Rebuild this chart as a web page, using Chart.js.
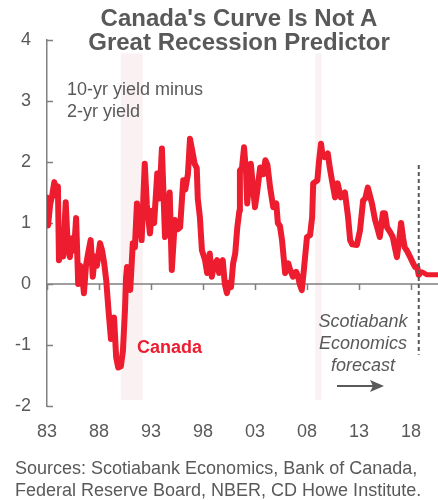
<!DOCTYPE html>
<html>
<head>
<meta charset="utf-8">
<script src="https://cdn.jsdelivr.net/npm/chart.js@4/dist/chart.umd.min.js"></script>
<style>
  body { margin: 0; background: #fff; }
  #wrap { position: relative; width: 438px; height: 500px; font-family: "Liberation Sans", Arial, sans-serif; color: #595959; }
  #title { position: absolute; left: 0; top: 6px; width: 478px; text-align: center; font-weight: bold; font-size: 24px; line-height: 24px; }
  #source { position: absolute; left: 15px; top: 457px; font-size: 18px; line-height: 22px; white-space: nowrap; }
  canvas { position: absolute; left: 0; top: 0; }
</style>
</head>
<body>
<div id="wrap">
  <canvas id="curveChart" width="438" height="500"></canvas>
  <div id="title">Canada's Curve Is Not A<br>Great Recession Predictor</div>
  <div id="source">Sources: Scotiabank Economics, Bank of Canada,<br>Federal Reserve Board, NBER, CD Howe Institute.</div>
</div>
<script>
"use strict";

// 10-yr minus 2-yr yield, Canada (decimal years)
const years = [
  1983.0, 1983.1, 1983.3, 1983.5, 1983.7, 1983.9, 1984.05, 1984.15, 1984.35, 1984.55,
  1984.8, 1985.0, 1985.2, 1985.4, 1985.6, 1985.8, 1986.0, 1986.2, 1986.35, 1986.55,
  1986.75, 1986.95, 1987.2, 1987.4, 1987.6, 1987.8, 1988.1, 1988.3, 1988.5, 1988.7,
  1988.9, 1989.15, 1989.35, 1989.45, 1989.65, 1989.85, 1990.1, 1990.3, 1990.5, 1990.6,
  1990.7, 1990.9, 1991.0, 1991.15, 1991.25, 1991.45, 1991.65, 1991.85, 1992.05, 1992.1,
  1992.4, 1992.6, 1992.9, 1993.1, 1993.3, 1993.6, 1993.8, 1994.05, 1994.35, 1994.55,
  1994.8, 1995.0, 1995.3, 1995.6, 1995.8, 1996.1, 1996.3, 1996.55, 1996.75, 1996.95,
  1997.2, 1997.4, 1997.5, 1997.7, 1997.9, 1998.2, 1998.4, 1998.65, 1998.85, 1999.05,
  1999.35, 1999.55, 1999.75, 1999.9, 2000.1, 2000.3, 2000.5, 2000.7, 2000.9, 2001.1,
  2001.3, 2001.5, 2001.55, 2001.75, 2001.95, 2002.15, 2002.25, 2002.45, 2002.6, 2002.8,
  2003.0, 2003.2, 2003.5, 2003.8, 2004.0, 2004.2, 2004.45, 2004.75, 2005.05, 2005.2,
  2005.4, 2005.6, 2005.9, 2006.2, 2006.35, 2006.65, 2006.95, 2007.15, 2007.3, 2007.5,
  2007.7, 2008.0, 2008.3, 2008.5, 2008.6, 2009.0, 2009.15, 2009.35, 2009.5, 2009.7,
  2010.0, 2010.2, 2010.4, 2010.7, 2010.95, 2011.25, 2011.65, 2011.95, 2012.15, 2012.35,
  2012.8, 2013.1, 2013.4, 2013.6, 2013.85, 2014.25, 2014.55, 2014.75, 2015.0, 2015.3,
  2015.5, 2015.7, 2016.0, 2016.25, 2016.45, 2016.65, 2016.85, 2017.05, 2017.25, 2017.4,
  2017.6, 2017.9, 2018.2, 2018.4, 2018.6, 2018.75
];
const spread = [
  1.42, 0.96, 1.30, 1.45, 1.67, 1.45, 1.60, 0.39, 0.70, 0.45,
  1.34, 0.60, 0.44, 0.75, 0.55, 1.08, 0.00, 0.30, 0.20, -0.15,
  0.30, 0.50, 0.72, 0.12, 0.45, 0.30, 0.67, 0.55, 0.34, 0.05,
  -0.40, -0.90, -0.60, -0.55, -1.20, -1.37, -1.35, -1.10, -0.42, 0.10,
  0.28, 0.10, -0.10, 0.35, 0.67, 0.60, 1.32, 0.80, 1.00, 0.72,
  1.97, 1.30, 0.83, 1.20, 1.00, 1.81, 1.40, 2.22, 0.77, 1.10,
  1.50, 0.23, 1.05, 0.90, 0.93, 1.70, 1.55, 1.80, 2.38, 2.20,
  1.97, 1.90, 1.40, 1.10, 0.55, 0.39, 0.18, 0.50, 0.12, 0.30,
  0.39, 0.18, 0.35, 0.39, 0.00, -0.15, 0.02, -0.05, 0.34, 0.50,
  0.93, 1.20, 1.86, 1.90, 2.24, 1.80, 1.32, 1.70, 1.97, 1.60,
  1.26, 1.50, 1.91, 1.80, 2.03, 1.95, 1.59, 1.26, 1.32, 1.00,
  0.95, 0.72, 0.18, 0.34, 0.25, 0.12, 0.20, 0.12, 0.00, -0.10,
  0.23, 0.77, 0.80, 1.10, 1.65, 1.70, 2.00, 2.30, 2.10, 2.08,
  2.14, 1.90, 1.70, 1.42, 1.65, 1.42, 1.50, 1.10, 0.72, 0.65,
  0.64, 0.88, 1.37, 1.40, 1.58, 1.32, 1.05, 0.93, 0.77, 1.16,
  1.16, 0.93, 0.85, 0.77, 0.60, 0.44, 0.70, 1.00, 0.75, 0.60,
  0.55, 0.45, 0.34, 0.28, 0.28, 0.15
];

// Scotiabank forecast
const forecastYears = [2018.75, 2019.05, 2019.25, 2019.55, 2020.6];
const forecastSpread = [0.15, 0.20, 0.18, 0.15, 0.15];

// recessions (shaded)
const recessionStart = [1990.1, 2008.8];
const recessionEnd = [1992.2, 2009.4];

const tickYears = [1983, 1988, 1993, 1998, 2003, 2008, 2013, 2018];
const tickLabels = ["83", "88", "93", "98", "03", "08", "13", "18"];
const forecastStart = 2018.75;

const GREY = "#595959";
const AXIS = "#808080";
const RED = "#ed1c2e";
const FONT = '"Liberation Sans", Arial, sans-serif';

const overlay = {
  id: "overlay",
  beforeDatasetsDraw(chart) {
    const ctx = chart.ctx;
    const x = chart.scales.x;
    const y = chart.scales.y;
    const area = chart.chartArea;
    ctx.save();
    // recession bands
    ctx.fillStyle = "#faf2f2";
    recessionStart.forEach((s, i) => {
      const x0 = x.getPixelForValue(s);
      const x1 = x.getPixelForValue(recessionEnd[i]);
      const top = y.getPixelForValue(3.78);
      const bot = y.getPixelForValue(-1.9);
      ctx.fillRect(x0, top, x1 - x0, bot - top);
    });
    // zero line
    const y0 = y.getPixelForValue(0);
    ctx.strokeStyle = AXIS;
    ctx.lineWidth = 1.5;
    ctx.beginPath();
    ctx.moveTo(area.left, y0);
    ctx.lineTo(area.right, y0);
    // x tick marks hang below zero line
    tickYears.forEach((t) => {
      const px = Math.round(x.getPixelForValue(t)) + 0.5;
      ctx.moveTo(px, y0);
      ctx.lineTo(px, y0 + 6);
    });
    // y tick marks point inward
    for (let v = -2; v <= 4; v++) {
      const py = Math.round(y.getPixelForValue(v)) + 0.5;
      ctx.moveTo(area.left, py);
      ctx.lineTo(area.left + 6, py);
    }
    ctx.stroke();
    ctx.restore();
  },
  afterDatasetsDraw(chart) {
    const ctx = chart.ctx;
    const x = chart.scales.x;
    const y = chart.scales.y;
    ctx.save();
    // forecast divider
    const fx = x.getPixelForValue(forecastStart);
    ctx.strokeStyle = GREY;
    ctx.lineWidth = 2;
    ctx.setLineDash([4, 3]);
    ctx.beginPath();
    ctx.moveTo(fx, y.getPixelForValue(1.95));
    ctx.lineTo(fx, y.getPixelForValue(-1.16));
    ctx.stroke();
    ctx.setLineDash([]);

    ctx.textBaseline = "middle";
    ctx.fillStyle = GREY;
    ctx.font = "18px " + FONT;
    ctx.textAlign = "left";
    ctx.fillText("10-yr yield minus", 67, 90);
    ctx.fillText("2-yr yield", 67, 112);

    ctx.fillStyle = RED;
    ctx.font = "bold 18px " + FONT;
    ctx.fillText("Canada", 137, 348);

    ctx.fillStyle = GREY;
    ctx.font = "italic 18px " + FONT;
    ctx.textAlign = "center";
    ctx.fillText("Scotiabank", 363, 322);
    ctx.fillText("Economics", 363, 344);
    ctx.fillText("forecast", 363, 366);

    // arrow
    ctx.strokeStyle = GREY;
    ctx.lineWidth = 2;
    ctx.beginPath();
    ctx.moveTo(337, 386);
    ctx.lineTo(376, 386);
    ctx.stroke();
    ctx.fillStyle = GREY;
    ctx.beginPath();
    ctx.moveTo(384, 386);
    ctx.lineTo(370, 380);
    ctx.lineTo(373, 386);
    ctx.lineTo(370, 392);
    ctx.closePath();
    ctx.fill();
    ctx.restore();
  },
};

const context = document.querySelector("#curveChart").getContext("2d");
new Chart(context, {
  type: "line",
  data: {
    datasets: [
      {
        data: years.map((v, i) => ({ x: v, y: spread[i] })),
        borderColor: RED,
        borderWidth: 6,
        borderJoinStyle: "round",
        borderCapStyle: "round",
        pointRadius: 0,
        tension: 0,
      },
      {
        data: forecastYears.map((v, i) => ({ x: v, y: forecastSpread[i] })),
        borderColor: RED,
        borderWidth: 5,
        borderJoinStyle: "round",
        pointRadius: 0,
        tension: 0,
      },
    ],
  },
  options: {
    responsive: false,
    animation: false,
    layout: { padding: { top: 40, left: 0, right: 0, bottom: 0 } },
    plugins: {
      legend: { display: false },
      tooltip: { enabled: false },
    },
    scales: {
      x: {
        type: "linear",
        min: 1983,
        max: 2020.6,
        grid: { display: false },
        border: { display: false },
        afterBuildTicks: (axis) => {
          axis.ticks = tickYears.map((v) => ({ value: v }));
        },
        afterFit: (scale) => {
          scale.height = 94;
        },
        ticks: {
          autoSkip: false,
          maxRotation: 0,
          padding: 7,
          color: GREY,
          font: { family: FONT, size: 18 },
          callback: function (value) {
            const i = tickYears.indexOf(value);
            return i >= 0 ? tickLabels[i] : "";
          },
        },
      },
      y: {
        min: -2,
        max: 4,
        grid: { display: false },
        border: { display: true, color: AXIS, width: 1.5 },
        afterFit: (scale) => {
          scale.width = 47;
        },
        ticks: {
          stepSize: 1,
          padding: 8,
          color: GREY,
          font: { family: FONT, size: 18 },
        },
      },
    },
  },
  plugins: [overlay],
});
</script>
</body>
</html>
